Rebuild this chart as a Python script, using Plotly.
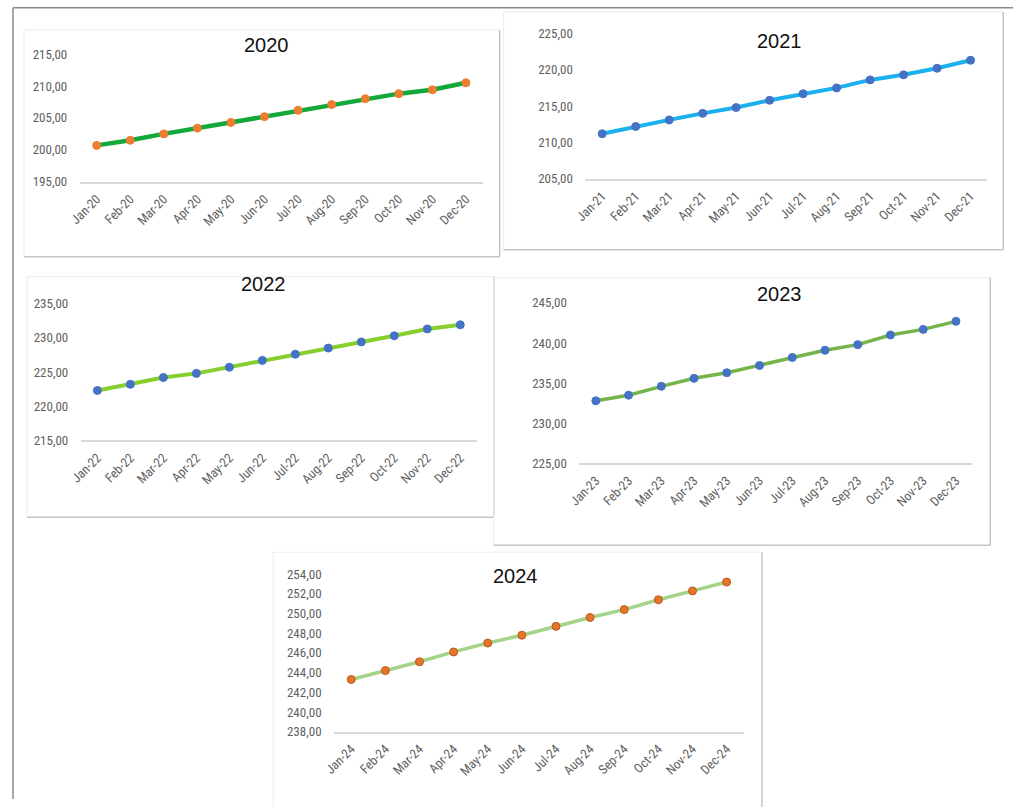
import plotly.graph_objects as go

W, H = 1013, 807

months = ["Jan", "Feb", "Mar", "Apr", "May", "Jun", "Jul", "Aug", "Sep", "Oct", "Nov", "Dec"]
years = ["2020", "2021", "2022", "2023", "2024"]

values_2020 = [200.7, 201.5, 202.5, 203.4, 204.3, 205.2, 206.2, 207.1, 208.0, 208.8, 209.4, 210.5]
values_2021 = [211.2, 212.2, 213.1, 214.0, 214.8, 215.8, 216.7, 217.5, 218.6, 219.3, 220.2, 221.3]
values_2022 = [222.3, 223.2, 224.2, 224.8, 225.7, 226.7, 227.6, 228.5, 229.4, 230.3, 231.3, 231.9]
values_2023 = [232.8, 233.5, 234.6, 235.6, 236.3, 237.2, 238.2, 239.1, 239.8, 241.0, 241.7, 242.7]
values_2024 = [243.3, 244.2, 245.1, 246.1, 247.0, 247.8, 248.7, 249.6, 250.4, 251.4, 252.3, 253.2]
series = [values_2020, values_2021, values_2022, values_2023, values_2024]

y_ranges = [(195, 215, 5), (205, 225, 5), (215, 235, 5), (225, 245, 5), (238, 254, 2)]

# target picture-pixel layout of each panel: plot area x0,x1,y_bottom,y_top ; title ; frame
plot_px = [
    (78, 482, 182, 54),
    (585, 988, 179, 33.3),
    (79, 476, 441, 304),
    (579, 973, 464, 303.3),
    (333, 743.7, 732.7, 575),
]
title_px = [(265, 45), (780, 41), (262, 284), (780, 294), (515, 577)]
frame_px = [
    (22, 30, 499, 257),
    (503, 12, 1004, 250),
    (25, 277, 493, 518),
    (493, 278, 991, 546),
    (272, 553, 762, 812),
]
line_colors = ["#13A83A", "#1BB0EE", "#86CF2E", "#74B44A", "#A3D48A"]
marker_colors = ["#ED7D31", "#4472C4", "#4472C4", "#4472C4", "#E8742A"]
line_widths = [4.5, 4, 4, 3.5, 3.5]

tick_font = dict(family="Liberation Sans Narrow, Roboto Condensed, Liberation Sans, Arial", size=13, color="#5f5f5f")

# picture pixel -> page pixel (observed capture offset/scale) -> figure paper fraction
SX, OX = 0.991, 9.9
SY, OY = 0.983, 6.9

def px_x(v):
    return ((v - OX) / SX) / W

def px_y(v):
    return 1 - ((v - OY) / SY) / H

fig = go.Figure()
shapes = []
annotations = []
layout = {}

for i, (yr, vals) in enumerate(zip(years, series)):
    n = "" if i == 0 else str(i + 1)
    cats = [f"{m}-{yr[2:]}" for m in months]
    fig.add_trace(go.Scatter(
        x=cats, y=vals, mode="lines+markers",
        line=dict(color=line_colors[i], width=line_widths[i]),
        marker=dict(color=marker_colors[i], size=8,
                    line=dict(color="#B85A1E" if i == 4 else marker_colors[i], width=1)),
        xaxis="x" + n, yaxis="y" + n, showlegend=False, hoverinfo="x+y",
    ))
    x0, x1, yb, yt = plot_px[i]
    lo, hi, step = y_ranges[i]
    layout["xaxis" + n] = dict(
        domain=[px_x(x0), px_x(x1)], anchor="y" + n,
        type="category", range=[-0.5, 11.5],
        showline=True, linecolor="#d9d9d9", linewidth=1.5,
        showgrid=False, zeroline=False, tickangle=-45,
        ticks="outside", ticklen=3, tickcolor="rgba(0,0,0,0)",
        tickfont=tick_font, fixedrange=True,
    )
    layout["yaxis" + n] = dict(
        domain=[px_y(yb), px_y(yt)], anchor="x" + n,
        range=[lo, hi], dtick=step, tick0=lo,
        tickformat=".2f", showline=False, showgrid=False, zeroline=False,
        ticks="outside", ticklen=9, tickcolor="rgba(0,0,0,0)",
        tickfont=tick_font, fixedrange=True,
    )
    tx, ty = title_px[i]
    annotations.append(dict(
        text=yr, x=px_x(tx), y=px_y(ty), xref="paper", yref="paper",
        showarrow=False, xanchor="center", yanchor="middle",
        font=dict(family="Liberation Sans, Arial", size=20, color="#111111"),
    ))
    fx0, fy0, fx1, fy1 = frame_px[i]
    shapes.append(dict(type="line", xref="paper", yref="paper",
                       x0=px_x(fx0), y0=px_y(fy0), x1=px_x(fx1), y1=px_y(fy0),
                       line=dict(color="#ececec", width=1)))
    shapes.append(dict(type="line", xref="paper", yref="paper",
                       x0=px_x(fx0), y0=px_y(fy0), x1=px_x(fx0), y1=px_y(fy1),
                       line=dict(color="#ececec", width=1)))
    shapes.append(dict(type="line", xref="paper", yref="paper",
                       x0=px_x(fx1), y0=px_y(fy0), x1=px_x(fx1), y1=px_y(fy1),
                       line=dict(color="#c4c4c4", width=1.5)))
    shapes.append(dict(type="line", xref="paper", yref="paper",
                       x0=px_x(fx0), y0=px_y(fy1), x1=px_x(fx1), y1=px_y(fy1),
                       line=dict(color="#c4c4c4", width=1.5)))

# outer frame (top and left), as close to the edge as the figure allows
shapes.append(dict(type="line", xref="paper", yref="paper",
                   x0=0.001, y0=0.999, x1=1, y1=0.999,
                   line=dict(color="#8a8a8a", width=1.5)))
shapes.append(dict(type="line", xref="paper", yref="paper",
                   x0=0.001, y0=0.999, x1=0.001, y1=0,
                   line=dict(color="#8a8a8a", width=1.5)))

fig.update_layout(
    width=W, height=H, autosize=False,
    margin=dict(l=0, r=0, t=0, b=0),
    paper_bgcolor="white", plot_bgcolor="white",
    separators=",.",
    shapes=shapes, annotations=annotations,
    **layout,
)

fig.write_html(
    "out.html",
    config={"displayModeBar": False},
    post_script="document.body.style.margin='0';document.body.style.overflow='hidden';",
)
